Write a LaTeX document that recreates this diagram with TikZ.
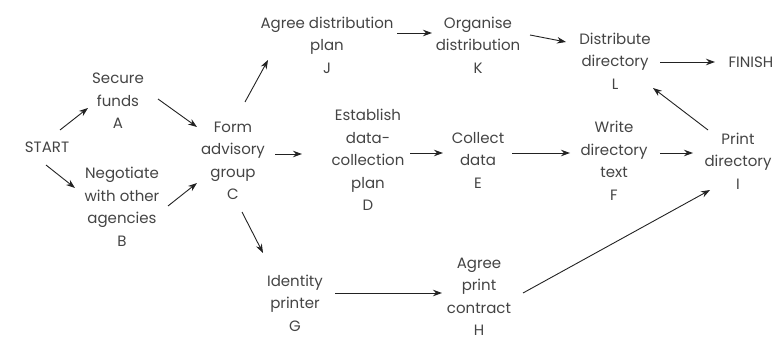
\documentclass[tikz,border=0pt]{standalone}
\usepackage{fontspec}
\setmainfont{Poppins}
\usetikzlibrary{arrows.meta,calc}
\definecolor{txt}{HTML}{444444}
\definecolor{ln}{HTML}{222222}
\tikzset{
  lbl/.style={align=center,text=txt,inner sep=0pt,font=\fontsize{15}{22.5}\selectfont},
  arr/.style={draw=ln,line width=0.9pt,-{Stealth[length=9pt,width=6.5pt]}}
}
\begin{document}
\begin{tikzpicture}[x=1pt,y=-1pt]
\useasboundingbox (0,0) rectangle (784,342);
\node[lbl] (START) at (47,147) {START};
\node[lbl] (A) at (118,101) {Secure\\funds\\A};
\node[lbl] (B) at (122,207) {Negotiate\\with other\\agencies\\B};
\node[lbl] (C) at (233,161) {Form\\advisory\\group\\C};
\node[lbl] (J) at (327,45) {Agree distribution\\plan\\J};
\node[lbl] (K) at (478,45) {Organise\\distribution\\K};
\node[lbl] (L) at (615,61) {Distribute\\directory\\L};
\node[lbl] (FINISH) at (751,62) {FINISH};
\node[lbl] (D) at (368,160) {Establish\\data-\\collection\\plan\\D};
\node[lbl] (E) at (478,160) {Collect\\data\\E};
\node[lbl] (F) at (614,161) {Write\\directory\\text\\F};
\node[lbl] (I) at (738,161) {Print\\directory\\I};
\node[lbl] (G) at (295,303) {Identity\\printer\\G};
\node[lbl] (H) at (479,297) {Agree\\print\\contract\\H};
\draw[arr] ($(START)+(13,-17)$) -- ($(A)+(-30,7)$);
\draw[arr] ($(START)+(-1,18)$) -- ($(B)+(-47,-19)$);
\draw[arr] ($(A)+(40,-2)$) -- ($(C)+(-36,-34)$);
\draw[arr] ($(B)+(46,-1)$) -- ($(C)+(-36,22)$);
\draw[arr] ($(C)+(12,-59)$) -- ($(J)+(-59,15)$);
\draw[arr] ($(C)+(42,-7)$) -- ($(D)+(-66,-6)$);
\draw[arr] ($(C)+(9,51)$) -- ($(G)+(-32,-50)$);
\draw[arr] ($(J)+(70,-12)$) -- ($(K)+(-46,-12)$);
\draw[arr] ($(K)+(52,-10)$) -- ($(L)+(-49,-19)$);
\draw[arr] ($(L)+(45,1)$) -- ($(FINISH)+(-36,0)$);
\draw[arr] ($(D)+(42,-7)$) -- ($(E)+(-35,-7)$);
\draw[arr] ($(E)+(34,-7)$) -- ($(F)+(-44,-8)$);
\draw[arr] ($(F)+(46,-8)$) -- ($(I)+(-45,-8)$);
\draw[arr] ($(I)+(-30,-31)$) -- ($(L)+(38,27)$);
\draw[arr] ($(G)+(40,-10)$) -- ($(H)+(-37,-4)$);
\draw[arr] ($(H)+(44,-4)$) -- ($(I)+(-28,29)$);
\end{tikzpicture}
\end{document}
